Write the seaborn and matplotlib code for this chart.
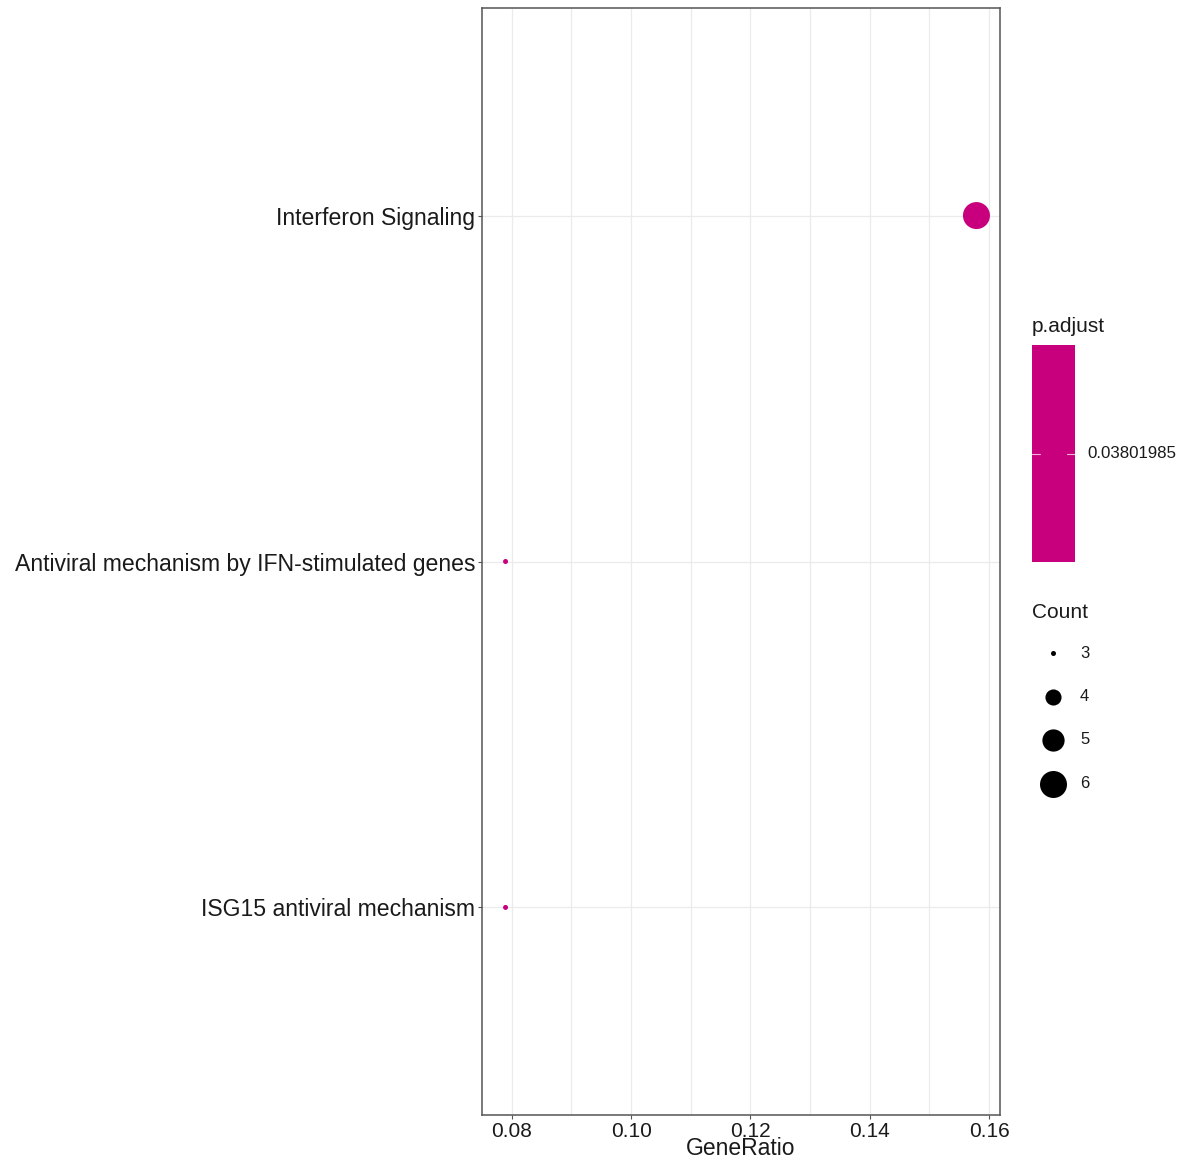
import matplotlib
matplotlib.use("Agg")
import matplotlib.pyplot as plt
from matplotlib.lines import Line2D
from matplotlib.ticker import MultipleLocator
import numpy as np
import pandas as pd
import seaborn as sns

# Enrichment results
terms = ["Interferon Signaling",
         "Antiviral mechanism by IFN-stimulated genes",
         "ISG15 antiviral mechanism"]
gene_ratio = [6 / 38, 3 / 38, 3 / 38]
counts = [6, 3, 3]
p_adjust = [0.03801985, 0.03801985, 0.03801985]
size_breaks = [3, 4, 5, 6]

dot_color = "#C8007E"
size_range = (13, 378)

df = pd.DataFrame({"Description": terms, "GeneRatio": gene_ratio,
                   "Count": counts, "p.adjust": p_adjust})

sns.set_theme(style="white")
plt.rcParams["font.family"] = ["Liberation Sans", "DejaVu Sans"]

fig = plt.figure(figsize=(11.83, 11.60), dpi=100)
ax = fig.add_axes([482 / 1183, 1 - 1115 / 1160, 518 / 1183, 1107 / 1160])

sns.scatterplot(data=df, x="GeneRatio", y="Description", size="Count",
                sizes=size_range, size_norm=(3, 6), color=dot_color,
                edgecolor="none", legend=False, ax=ax, zorder=3)

lo, hi = min(gene_ratio), max(gene_ratio)
pad = (hi - lo) * 0.05
ax.set_xlim(lo - pad, hi + pad)
ax.set_ylim(len(terms) - 0.4, -0.6)

ax.xaxis.set_major_locator(MultipleLocator(0.02))
ax.xaxis.set_minor_locator(MultipleLocator(0.01))
ax.xaxis.set_major_formatter(matplotlib.ticker.FormatStrFormatter("%.2f"))
ax.grid(True, which="major", color="#EBEBEB", linewidth=0.9, zorder=0)
ax.grid(True, which="minor", axis="x", color="#EBEBEB", linewidth=0.9, zorder=0)
ax.set_axisbelow(True)

for s in ax.spines.values():
    s.set_color("#555555")
    s.set_linewidth(1.1)

ax.tick_params(axis="both", which="major", length=3, width=0.8, color="#555555",
               labelcolor="#1a1a1a", pad=2, bottom=True, left=True)
ax.tick_params(axis="x", which="major", labelsize=15)
ax.tick_params(axis="y", which="major", labelsize=16.6)
ax.tick_params(axis="x", which="minor", length=0)
ax.set_ylabel("")
ax.set_xlabel("GeneRatio", fontsize=16.5, color="#1a1a1a", labelpad=-3)

# p.adjust colour bar (single value)
fig.text(1032 / 1183, 1 - 327 / 1160, "p.adjust", fontsize=15,
         color="#1a1a1a", va="center", ha="left")
cax = fig.add_axes([1032 / 1183, 1 - 562 / 1160, 43 / 1183, 217 / 1160])
cax.set_facecolor(dot_color)
cax.set_xticks([])
cax.set_yticks([])
cax.set_xlim(0, 1)
cax.set_ylim(0, 1)
for s in cax.spines.values():
    s.set_visible(False)
cax.plot([0, 0.18], [0.5, 0.5], color="white", lw=0.8, alpha=0.7)
cax.plot([0.82, 1], [0.5, 0.5], color="white", lw=0.8, alpha=0.7)
fig.text(1087 / 1183, 1 - 454 / 1160, f"{p_adjust[0]:.8f}", fontsize=12.2,
         color="#1a1a1a", va="center", ha="left")

# Count size legend
fig.text(1032 / 1183, 1 - 613 / 1160, "Count", fontsize=15,
         color="#1a1a1a", va="center", ha="left")
for i, c in enumerate(size_breaks):
    y = 1 - (653 + i * 43.5) / 1160
    area = size_range[0] + (c - 3) / 3 * (size_range[1] - size_range[0])
    fig.lines.append(Line2D([1053 / 1183], [y], marker="o", linestyle="none",
                            markersize=np.sqrt(area), color="black",
                            markeredgewidth=0, transform=fig.transFigure))
    fig.text(1080 / 1183, y, str(c), fontsize=12, color="#1a1a1a",
             va="center", ha="left")

fig.savefig("out.png", dpi=100, facecolor="white")
